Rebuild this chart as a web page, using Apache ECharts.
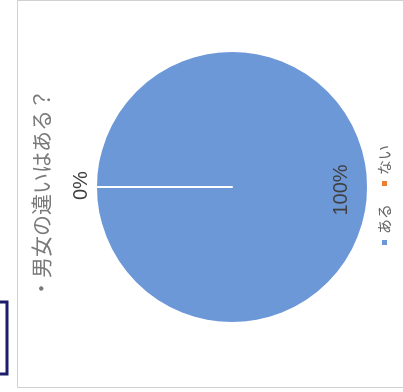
<!DOCTYPE html>
<html>
<head>
<meta charset="utf-8">
<script src="https://cdn.jsdelivr.net/npm/echarts@6/dist/echarts.min.js"></script>
<style>
  html, body { margin: 0; padding: 0; background: #ffffff; overflow: hidden; }
  body { width: 403px; height: 392px; position: relative; }
  /* The chart is laid out upright and then turned a quarter turn counter-clockwise. */
  #chart {
    position: absolute; left: 0; top: 0;
    width: 392px; height: 403px;
    transform-origin: 0 0;
    transform: translateY(392px) rotate(-90deg);
  }
</style>
</head>
<body>
<div id="chart"></div>
<script>
// Survey answer: is there a difference between boys and girls?
const titleText = '・男女の違いはある？';
const categories = ['ある', 'ない'];
const values = [100, 0];
const percentLabels = ['100%', '0%'];
const colors = ['#6c98d8', '#ed7d31'];

const chart = echarts.init(document.getElementById('chart'), null, { renderer: 'canvas' });

const font = '"Noto Sans CJK JP", "Noto Sans", sans-serif';

chart.setOption({
  backgroundColor: 'transparent',
  animation: false,
  color: colors,
  title: {
    text: titleText,
    left: 88,
    top: 26,
    textStyle: { fontFamily: font, fontSize: 21, fontWeight: 'normal', color: '#7a7a7a' }
  },
  legend: {
    data: categories,
    bottom: 6,
    left: 'center',
    icon: 'rect',
    itemWidth: 7,
    itemHeight: 7,
    itemGap: 16,
    textStyle: { fontFamily: font, fontSize: 15, color: '#666666' }
  },
  graphic: [
    // chart area frame
    { type: 'rect', shape: { x: 4.5, y: 17.5, width: 387, height: 400 },
      style: { fill: '#ffffff', stroke: '#d0d0d0', lineWidth: 1 }, z: -10 },
    // edge of the neighbouring box
    { type: 'rect', shape: { x: 18, y: -60, width: 72, height: 67 },
      style: { fill: 'none', stroke: '#1c1c6a', lineWidth: 3 }, z: -10 }
  ],
  series: [{
    type: 'pie',
    center: [205, 232],
    radius: 136,
    startAngle: 90,
    clockwise: true,
    data: categories.map((name, i) => ({
      name: name,
      value: values[i],
      label: {
        position: values[i] > 0 ? 'inside' : 'outside',
        formatter: percentLabels[i]
      }
    })),
    itemStyle: { borderColor: '#ffffff', borderWidth: 2 },
    label: {
      show: true,
      fontFamily: '"Liberation Sans", Arial, sans-serif',
      fontSize: 20,
      color: '#404040'
    },
    labelLine: { show: false, length: 4, length2: 0 },
    // nudge the labels to where Excel's best-fit placement puts them
    labelLayout: function (p) {
      return values[p.dataIndex] > 0 ? { dx: -3, dy: 38 } : { dx: -18, dy: -11 };
    }
  }]
});
</script>
</body>
</html>
